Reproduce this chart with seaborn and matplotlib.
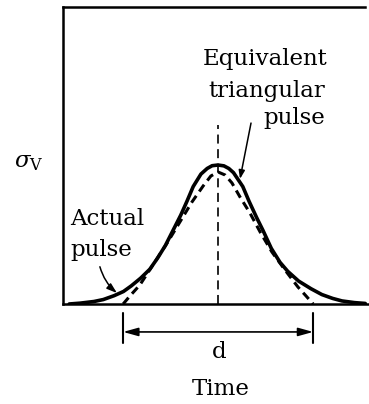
import matplotlib
matplotlib.use("Agg")
import matplotlib.pyplot as plt
import seaborn as sns

# Actual stress pulse: time (arbitrary units) and normalised amplitude
actual_t = [0.2, 0.55, 1.0, 1.3, 1.65, 1.95, 2.2, 2.5, 2.8, 3.05, 3.3, 3.55,
            3.8, 4.0, 4.2, 4.45, 4.65, 4.81, 5.0, 5.19, 5.35, 5.5, 5.8, 6.0,
            6.25, 6.45, 6.72, 7.0, 7.25, 7.6, 8.0, 8.35, 8.7, 9.0, 9.4, 9.75]
actual_v = [0.0, 0.006, 0.018, 0.032, 0.06, 0.09, 0.13, 0.185, 0.25, 0.33,
            0.42, 0.53, 0.64, 0.74, 0.845, 0.935, 0.975, 0.995, 1.0, 0.994,
            0.975, 0.945, 0.845, 0.74, 0.62, 0.53, 0.4, 0.3, 0.235, 0.165,
            0.11, 0.068, 0.04, 0.022, 0.01, 0.004]

# Equivalent triangular pulse
equiv_t = [1.94, 2.16, 2.48, 2.9, 3.36, 3.77, 4.16, 4.52, 4.77, 5.0, 5.23,
           5.45, 5.71, 6.03, 6.36, 6.74, 7.16, 7.58, 7.84, 8.07]
equiv_v = [0.0, 0.058, 0.137, 0.281, 0.439, 0.59, 0.734, 0.849, 0.921, 0.95,
           0.928, 0.871, 0.77, 0.655, 0.518, 0.374, 0.245, 0.122, 0.058, 0.0]

peak_t = 5.0          # time of the pulse peak
center_line_top = 1.29
d_start, d_end = 1.94, 8.07   # duration d of the equivalent pulse

sns.set_style("white")
plt.rcParams["font.family"] = ["DejaVu Serif"]
plt.rcParams["mathtext.fontset"] = "dejavuserif"
plt.rcParams["text.color"] = "black"
plt.rcParams["lines.scale_dashes"] = False

fig = plt.figure(figsize=(3.69, 4.04), dpi=100)
ax = fig.add_axes([63 / 369, 100 / 404, 306 / 369, 297 / 404])

sns.lineplot(x=actual_t, y=actual_v, ax=ax, color="black", lw=2.6,
             estimator=None, sort=False)
sns.lineplot(x=equiv_t, y=equiv_v, ax=ax, color="black", lw=2.2,
             estimator=None, sort=False, linestyle=(0, (6, 3.8)))
ax.plot([peak_t, peak_t], [0, center_line_top], color="black", lw=1.2,
        linestyle=(0, (6.5, 4)))

ax.set_xlim(0, 9.871)
ax.set_ylim(0, 2.137)
ax.set_xticks([])
ax.set_yticks([])
ax.set_xlabel("")
ax.set_ylabel("")
for side in ("left", "bottom", "top"):
    ax.spines[side].set_color("black")
    ax.spines[side].set_linewidth(1.8)
ax.spines["right"].set_visible(False)
ax.spines["top"].set_bounds(0, 9.74)

fs = 16.5
ax.text(8.52, 1.719, "Equivalent", ha="right", va="baseline", fontsize=fs)
ax.text(8.45, 1.489, "triangular", ha="right", va="baseline", fontsize=fs)
ax.text(8.45, 1.295, "pulse", ha="right", va="baseline", fontsize=fs)
ax.text(0.23, 0.568, "Actual", ha="left", va="baseline", fontsize=fs)
ax.text(0.23, 0.345, "pulse", ha="left", va="baseline", fontsize=fs)
ax.text(-1.1, 1.02, r"$\sigma_{\mathrm{V}}$", ha="center", va="center",
        fontsize=fs, clip_on=False)
ax.text(5.03, -0.388, "d", ha="center", va="baseline", fontsize=fs,
        clip_on=False)
ax.text(5.1, -0.655, "Time", ha="center", va="baseline", fontsize=fs,
        clip_on=False)

# pointers to the two curves
ax.annotate("", xy=(5.71, 0.90), xytext=(6.065, 1.302),
            arrowprops=dict(arrowstyle="-|>,head_length=0.5,head_width=0.18",
                            color="black", lw=1.1, mutation_scale=10,
                            shrinkA=0, shrinkB=0))
ax.annotate("", xy=(1.74, 0.079), xytext=(1.19, 0.268),
            arrowprops=dict(arrowstyle="-|>,head_length=0.6,head_width=0.2",
                            color="black", lw=1.1, mutation_scale=10,
                            shrinkA=0, shrinkB=0,
                            connectionstyle="arc3,rad=0.15"))

# duration d marker below the time axis
for t in (d_start, d_end):
    ax.plot([t, t], [-0.065, -0.281], color="black", lw=1.5, clip_on=False)
ax.annotate("", xy=(d_start, -0.201), xytext=(d_end, -0.201),
            annotation_clip=False,
            arrowprops=dict(arrowstyle="<|-|>,head_length=0.9,head_width=0.25",
                            color="black", lw=1.2, mutation_scale=10,
                            shrinkA=0, shrinkB=0))

fig.savefig("out.png", dpi=100)
